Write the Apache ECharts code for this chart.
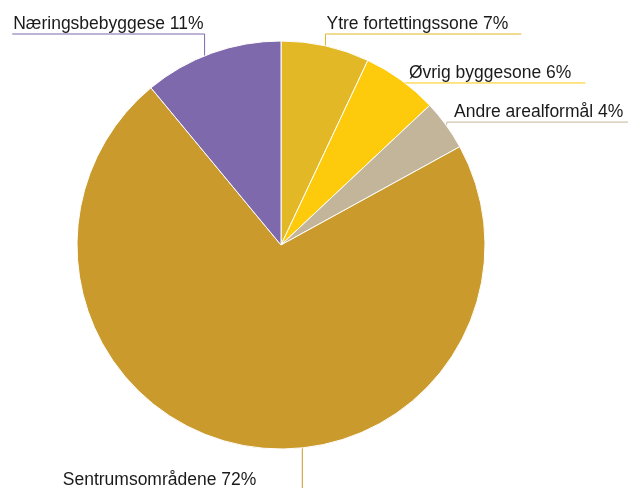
<!DOCTYPE html>
<html>
<head>
<meta charset="utf-8">
<script src="https://cdn.jsdelivr.net/npm/echarts@6/dist/echarts.min.js"></script>
<style>
  html, body { margin: 0; padding: 0; background: #fff; }
  #chart { width: 628px; height: 488px; }
</style>
</head>
<body>
<div id="chart"></div>
<script>
// Data
const categories = ['Ytre fortettingssone', 'Øvrig byggesone', 'Andre arealformål', 'Sentrumsområdene', 'Næringsbebyggese'];
const shares = [7, 6, 4, 72, 11];
const colors = ['#E2B826', '#FDCB0B', '#C3B599', '#CA9A2C', '#7F69AD'];

// Layout
const CX = 281, CY = 245, R = 204;
const FONT = '"Liberation Sans", Arial, sans-serif';
const labelModes = ['upRight', 'right', 'right', 'downLeft', 'upLeft'];
const anchorAngle = [null, null, null, 174, 338];
const lineShift = [0, 3, -3, 0, 0];

const total = shares.reduce((a, b) => a + b, 0);
function midAngle(i) {
  let c = 0;
  for (let k = 0; k < i; k++) c += shares[k];
  return (c + shares[i] / 2) / total * 360;
}
function edgePoint(deg) {
  const a = deg * Math.PI / 180;
  return [CX + R * Math.sin(a), CY - R * Math.cos(a)];
}

const chart = echarts.init(document.getElementById('chart'), null, { renderer: 'canvas' });
chart.setOption({
  animation: false,
  backgroundColor: '#ffffff',
  series: [{
    type: 'pie',
    center: [CX, CY],
    radius: R,
    startAngle: 90,
    clockwise: true,
    avoidLabelOverlap: false,
    emphasis: { disabled: true },
    itemStyle: { borderColor: '#ffffff', borderWidth: 1 },
    label: {
      show: true,
      position: 'outside',
      fontFamily: FONT,
      fontSize: 17.5,
      color: '#1a1a1a',
      width: 400,
      overflow: 'none',
      formatter: p => p.name + ' ' + p.value + '%'
    },
    labelLine: { show: true, length: 10, length2: 10, smooth: false, lineStyle: { width: 1 } },
    labelLayout: function (p) {
      const i = p.dataIndex;
      const w = p.labelRect.width;
      const a = anchorAngle[i] != null ? anchorAngle[i] : midAngle(i);
      const [x0, y0] = edgePoint(a);
      const m = labelModes[i];
      if (m === 'upRight') {
        const ly = 34;
        return { x: x0 + 1, y: ly - 1, align: 'left', verticalAlign: 'bottom',
          labelLinePoints: [[x0, y0], [x0, ly], [x0 + w + 14, ly]] };
      }
      if (m === 'upLeft') {
        const ly = 34;
        return { x: x0 - 1, y: ly - 1, align: 'right', verticalAlign: 'bottom',
          labelLinePoints: [[x0, y0], [x0, ly], [x0 - w - 2, ly]] };
      }
      if (m === 'right') {
        const ly = y0 + lineShift[i];
        return { x: x0 + 8, y: ly - 1, align: 'left', verticalAlign: 'bottom',
          labelLinePoints: [[x0, y0], [x0 + 1, ly], [x0 + 8 + w + 14, ly]] };
      }
      // downLeft
      const ly = 496;
      return { x: x0 - 46, y: 489, align: 'right', verticalAlign: 'bottom',
        labelLinePoints: [[x0, y0], [x0, ly], [x0 - 46 - w, ly]] };
    },
    data: categories.map((name, i) => ({
      name: name,
      value: shares[i],
      itemStyle: { color: colors[i] }
    }))
  }]
});
</script>
</body>
</html>
